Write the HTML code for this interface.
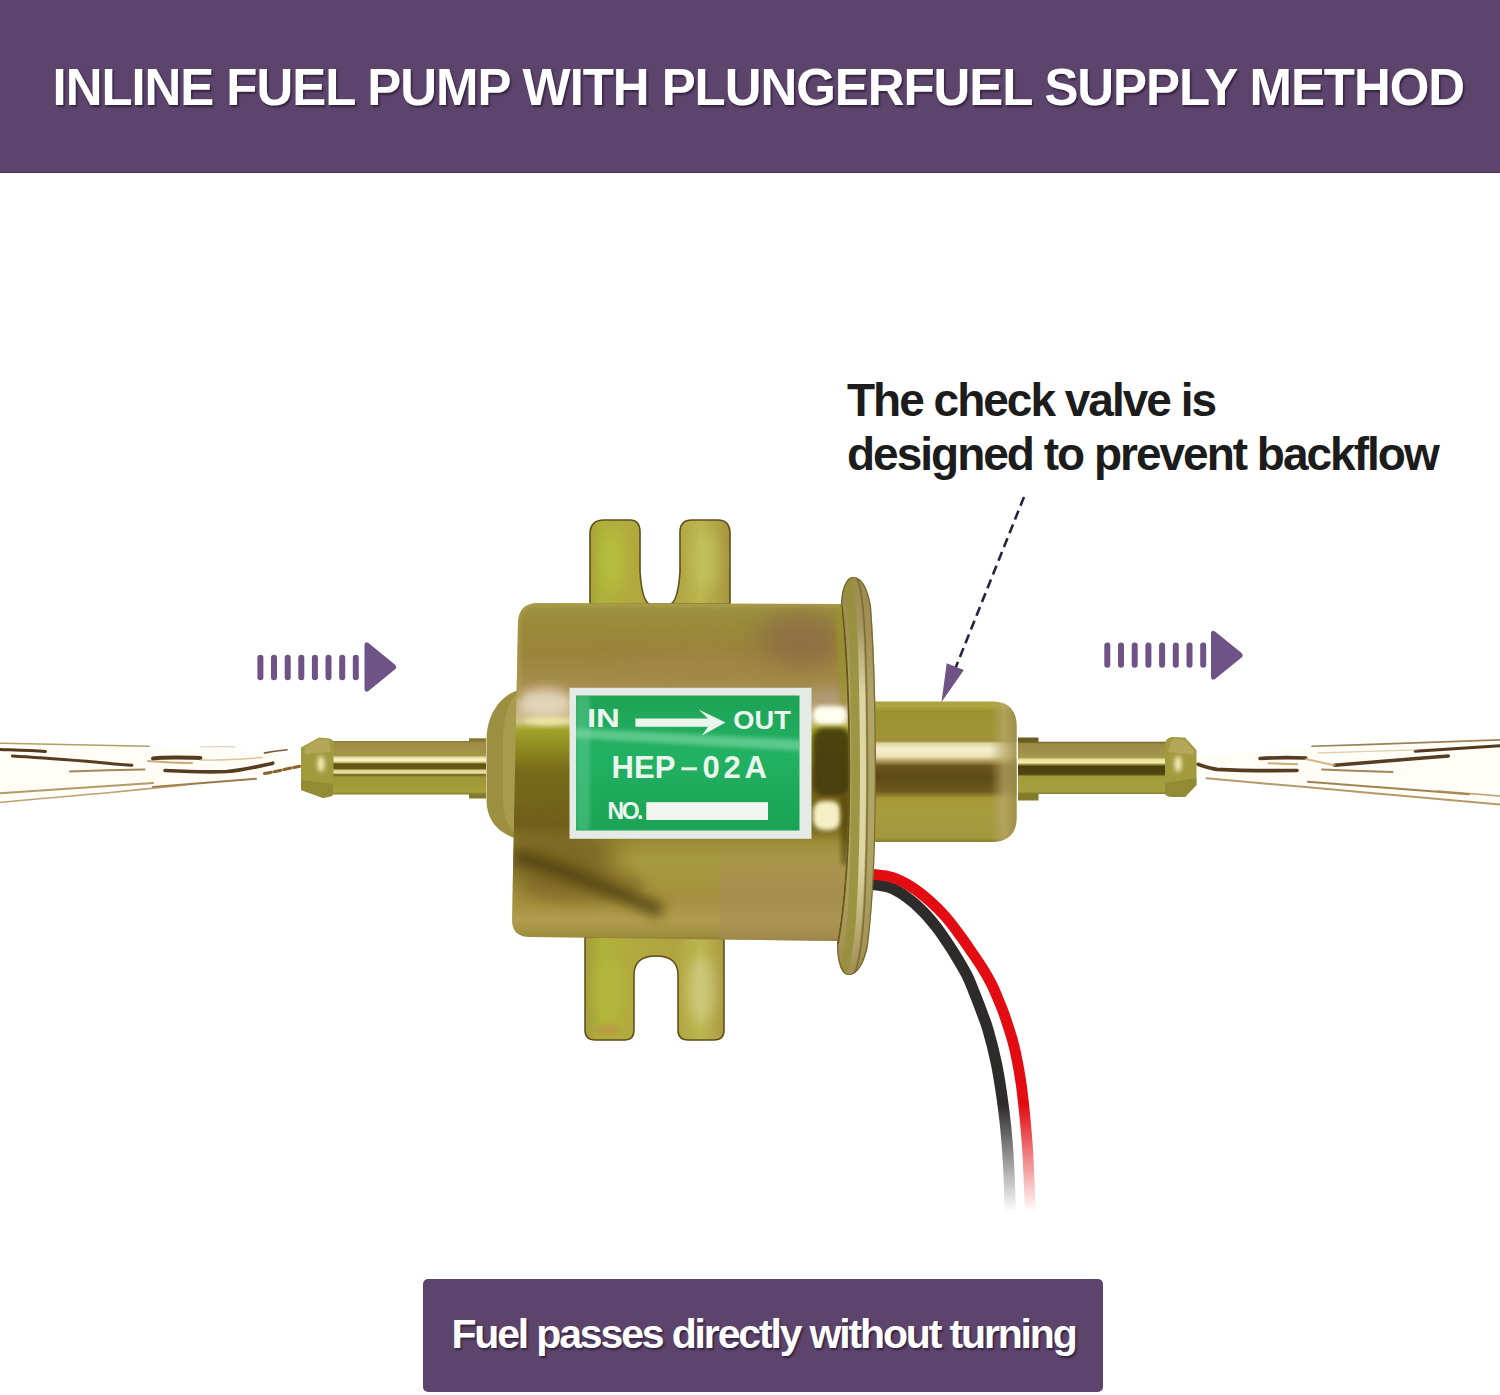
<!DOCTYPE html>
<html><head><meta charset="utf-8">
<style>
html,body{margin:0;padding:0;background:#fff;}
body{width:1500px;height:1395px;position:relative;overflow:hidden;font-family:"Liberation Sans",sans-serif;}
#hdr{position:absolute;left:0;top:0;width:1500px;height:172px;background:#5d446c;border-bottom:1.4px solid #46334f;}
#title{position:absolute;left:52.6px;top:57.6px;font-size:51px;font-weight:bold;color:#fff;white-space:nowrap;line-height:60px;letter-spacing:-1.08px;text-shadow:1.5px 2px 2px rgba(30,15,40,.65);}
#callout{position:absolute;left:847px;top:373px;font-size:46px;font-weight:bold;color:#1c1c1c;white-space:nowrap;line-height:54px;letter-spacing:-2px;}
#box{position:absolute;left:423px;top:1279px;width:680px;height:112.5px;background:#5d446c;border-radius:5px;}
#boxt{position:absolute;left:423.5px;top:1277.7px;width:680px;height:112px;line-height:112px;text-align:center;font-size:41px;font-weight:bold;color:#fff;white-space:nowrap;letter-spacing:-2.15px;text-shadow:1.5px 2px 2px rgba(30,15,40,.65);}
#art{position:absolute;left:0;top:0;}
</style></head><body>
<div id="hdr"></div>
<div id="title">INLINE FUEL PUMP WITH PLUNGERFUEL SUPPLY METHOD</div>
<div id="callout">The check valve is<br>designed to prevent backflow</div>
<svg id="art" width="1500" height="1395" viewBox="0 0 1500 1395">
<defs>
<linearGradient id="gBody" x1="0" y1="603" x2="0" y2="940" gradientUnits="userSpaceOnUse">
<stop offset="0" stop-color="#a49848"/>
<stop offset="0.027" stop-color="#9c8e3c"/>
<stop offset="0.14" stop-color="#988438"/>
<stop offset="0.26" stop-color="#a88f50"/>
<stop offset="0.323" stop-color="#c4b080"/>
<stop offset="0.353" stop-color="#d0c488"/>
<stop offset="0.377" stop-color="#a2a22a"/>
<stop offset="0.43" stop-color="#8e8a20"/>
<stop offset="0.5" stop-color="#786a1a"/>
<stop offset="0.66" stop-color="#72601a"/>
<stop offset="0.71" stop-color="#9c8c36"/>
<stop offset="0.76" stop-color="#a89a40"/>
<stop offset="0.88" stop-color="#a4903e"/>
<stop offset="0.94" stop-color="#b09c4c"/>
<stop offset="0.988" stop-color="#a08e40"/>
<stop offset="1" stop-color="#8a7a34"/>
</linearGradient>
<linearGradient id="gPipe" x1="0" y1="741" x2="0" y2="794.5" gradientUnits="userSpaceOnUse">
<stop offset="0" stop-color="#857830"/>
<stop offset="0.04" stop-color="#a08e48"/>
<stop offset="0.27" stop-color="#a49444"/>
<stop offset="0.31" stop-color="#e8e0a4"/>
<stop offset="0.36" stop-color="#fff8d8"/>
<stop offset="0.40" stop-color="#d0c070"/>
<stop offset="0.43" stop-color="#5e5212"/>
<stop offset="0.52" stop-color="#6a5c16"/>
<stop offset="0.545" stop-color="#d8d090"/>
<stop offset="0.60" stop-color="#ece4a8"/>
<stop offset="0.63" stop-color="#6e5e1a"/>
<stop offset="0.67" stop-color="#9c9436"/>
<stop offset="0.95" stop-color="#a8a03c"/>
<stop offset="1" stop-color="#857a2c"/>
</linearGradient>
<linearGradient id="gValve" x1="0" y1="701.5" x2="0" y2="842" gradientUnits="userSpaceOnUse">
<stop offset="0" stop-color="#a8a040"/>
<stop offset="0.03" stop-color="#b0a840"/>
<stop offset="0.07" stop-color="#9c9230"/>
<stop offset="0.25" stop-color="#a09438"/>
<stop offset="0.28" stop-color="#a08c3c"/>
<stop offset="0.30" stop-color="#e0d8a4"/>
<stop offset="0.34" stop-color="#f4f0d0"/>
<stop offset="0.39" stop-color="#ece4b8"/>
<stop offset="0.42" stop-color="#b8a468"/>
<stop offset="0.46" stop-color="#6a541c"/>
<stop offset="0.55" stop-color="#5e4a16"/>
<stop offset="0.64" stop-color="#6e5a1e"/>
<stop offset="0.69" stop-color="#a89838"/>
<stop offset="0.8" stop-color="#a89c40"/>
<stop offset="0.97" stop-color="#a4963c"/>
<stop offset="1" stop-color="#857a2c"/>
</linearGradient>
<linearGradient id="gValveEnd" x1="990" y1="0" x2="1017" y2="0" gradientUnits="userSpaceOnUse">
<stop offset="0" stop-color="#b0a060" stop-opacity="0"/>
<stop offset="0.5" stop-color="#b8a868" stop-opacity=".7"/>
<stop offset="1" stop-color="#9c8c48" stop-opacity=".9"/>
</linearGradient>
<linearGradient id="gFlange" x1="839" y1="0" x2="876" y2="0" gradientUnits="userSpaceOnUse">
<stop offset="0" stop-color="#6e5e20"/>
<stop offset="0.3" stop-color="#a08e44"/>
<stop offset="0.55" stop-color="#d0c484"/>
<stop offset="0.78" stop-color="#a89848"/>
<stop offset="1" stop-color="#6e6024"/>
</linearGradient>
<linearGradient id="gFlare" x1="0" y1="603" x2="0" y2="940" gradientUnits="userSpaceOnUse">
<stop offset="0" stop-color="#8c8430"/>
<stop offset="0.25" stop-color="#9a942c"/>
<stop offset="0.4" stop-color="#d8d090"/>
<stop offset="0.5" stop-color="#6a6018"/>
<stop offset="0.62" stop-color="#c8bc70"/>
<stop offset="0.8" stop-color="#a89c40"/>
<stop offset="1" stop-color="#b4a450"/>
</linearGradient>
<linearGradient id="gTab" x1="585" y1="0" x2="730" y2="0" gradientUnits="userSpaceOnUse">
<stop offset="0" stop-color="#a89c3c"/>
<stop offset="0.12" stop-color="#aeb23a"/>
<stop offset="0.3" stop-color="#b2aa3e"/>
<stop offset="0.62" stop-color="#b0a440"/>
<stop offset="0.8" stop-color="#bcb650"/>
<stop offset="1" stop-color="#a89440"/>
</linearGradient>
<linearGradient id="gLow" x1="0" y1="838" x2="0" y2="885" gradientUnits="userSpaceOnUse">
<stop offset="0" stop-color="#a88c5c" stop-opacity="0"/>
<stop offset="1" stop-color="#a88c5c" stop-opacity=".55"/>
</linearGradient>
<linearGradient id="gLabel" x1="0" y1="695" x2="0" y2="830" gradientUnits="userSpaceOnUse">
<stop offset="0" stop-color="#1ea256"/>
<stop offset="0.45" stop-color="#22b162"/>
<stop offset="1" stop-color="#1aa354"/>
</linearGradient>
<linearGradient id="gWireFade" x1="0" y1="1105" x2="0" y2="1212" gradientUnits="userSpaceOnUse">
<stop offset="0" stop-color="#fff" stop-opacity="0"/>
<stop offset="1" stop-color="#fff" stop-opacity="1"/>
</linearGradient>
<linearGradient id="gPipeR" x1="0" y1="741.7" x2="0" y2="794" gradientUnits="userSpaceOnUse">
<stop offset="0" stop-color="#6a5c20"/>
<stop offset="0.04" stop-color="#9a8a48"/>
<stop offset="0.3" stop-color="#a49848"/>
<stop offset="0.335" stop-color="#e8e098"/>
<stop offset="0.40" stop-color="#f4eeb0"/>
<stop offset="0.445" stop-color="#8c7c28"/>
<stop offset="0.47" stop-color="#4a4010"/>
<stop offset="0.62" stop-color="#52460f"/>
<stop offset="0.665" stop-color="#a09a38"/>
<stop offset="0.95" stop-color="#a8a040"/>
<stop offset="1" stop-color="#857a2c"/>
</linearGradient>
<linearGradient id="gFlBase" x1="0" y1="577" x2="0" y2="975" gradientUnits="userSpaceOnUse">
<stop offset="0" stop-color="#9c8a4c"/>
<stop offset="0.15" stop-color="#a4915a"/>
<stop offset="0.3" stop-color="#b0a468"/>
<stop offset="0.7" stop-color="#b0a465"/>
<stop offset="0.88" stop-color="#a8965a"/>
<stop offset="1" stop-color="#a08c52"/>
</linearGradient>
<linearGradient id="gFlCream" x1="0" y1="577" x2="0" y2="975" gradientUnits="userSpaceOnUse">
<stop offset="0" stop-color="#d8d0a0" stop-opacity="0"/>
<stop offset="0.12" stop-color="#d8d0a0" stop-opacity="0.1"/>
<stop offset="0.3" stop-color="#e0d8a8" stop-opacity="0.95"/>
<stop offset="0.72" stop-color="#e0d8a8" stop-opacity="0.95"/>
<stop offset="0.9" stop-color="#d8d0a0" stop-opacity="0.3"/>
<stop offset="1" stop-color="#d8d0a0" stop-opacity="0"/>
</linearGradient>
<filter id="blur2" filterUnits="userSpaceOnUse" x="250" y="450" width="1000" height="650"><feGaussianBlur stdDeviation="2"/></filter>
<filter id="blur6" filterUnits="userSpaceOnUse" x="250" y="450" width="1000" height="650"><feGaussianBlur stdDeviation="6"/></filter>
<filter id="blur12" filterUnits="userSpaceOnUse" x="250" y="450" width="1000" height="650"><feGaussianBlur stdDeviation="12"/></filter>
<clipPath id="cBody"><path d="M538,603 L841,604 C846,650 848.5,710 848.5,774 C848.5,840 845,900 837,941 L530,937 Q512,937 512,920 L518,622 Q519,603 538,603 Z"/></clipPath>
<clipPath id="cFlange"><path d="M841,606 C841,590 846,577 853,577 C862,577 868,588 871,606 C875,660 876,720 876,774 C876,830 874,900 868,945 C865,962 858,975 849,975 C841,975 837,962 837,944 C845,900 848,840 848,774 C848,710 846,650 841,606 Z"/></clipPath>
<clipPath id="cLabel"><rect x="576" y="695.5" width="223.5" height="135"/></clipPath>
</defs>
<!-- fuel streams -->
<g id="streamL" fill="none" stroke-linecap="round">
<path d="M300,756 C220,748 120,745 0,742 L0,803 C120,790 220,780 300,770 Z" fill="#fffdf6" stroke="none"/>
<path d="M0,743.2 C50,744 100,745.5 149,746.3" stroke="#a88c50" stroke-width="1.6" opacity=".85"/>
<path d="M200,747 C215,746.5 225,746.5 235,746.8" stroke="#c8b080" stroke-width="1.2" opacity=".6"/>
<path d="M0,749.4 C15,750 30,750.5 45.5,751.4" stroke="#40240a" stroke-width="3" opacity=".9"/>
<path d="M12.4,756 C40,757.5 70,760 95,762 C110,763.5 122,765 132,765.3" stroke="#44280a" stroke-width="3" opacity=".9"/>
<path d="M70,771.5 C95,770.5 120,769.8 144.6,769.4" stroke="#8a6a30" stroke-width="2" opacity=".8"/>
<path d="M153,758.5 C165,757 185,757.5 200.4,758" stroke="#42260a" stroke-width="4" opacity=".9"/>
<path d="M148,761 C160,762 178,763 192,763" stroke="#c09858" stroke-width="2.2" opacity=".8"/>
<path d="M165,770.5 C185,771.5 205,772.5 227,771.5 C245,770 260,766 272.7,763.2" stroke="#44280a" stroke-width="3.6" opacity=".9"/>
<path d="M264.5,773.6 C276,771.5 288,768.5 299.6,766.3" stroke="#7a5218" stroke-width="3" stroke-dasharray="7 3" opacity=".9"/>
<path d="M264.5,752.9 C272,751.8 280,750.6 287,749.8" stroke="#60400e" stroke-width="1.6" opacity=".85"/>
<path d="M200,760 C220,760.5 245,759 262,757.5" stroke="#c8ac70" stroke-width="1.4" opacity=".7"/>
<path d="M0,793.2 C50,790 100,786 153,782.9" stroke="#a88850" stroke-width="2" opacity=".85"/>
<path d="M153,787 C190,784 225,781 256,778.7" stroke="#8a6428" stroke-width="2" opacity=".85"/>
<path d="M0,802.5 C35,799 70,796 103,793.2 C130,790.5 160,787.5 186,785" stroke="#b09058" stroke-width="1.6" opacity=".85"/>
</g>
<g id="streamR" fill="none" stroke-linecap="round">
<path d="M1197,756 C1280,750 1380,744 1500,739 L1500,805 C1380,796 1280,786 1197,774 Z" fill="#fffdf6" stroke="none"/>
<path d="M1311.9,746.3 C1375,744.5 1440,742 1500,739.9" stroke="#8a6a38" stroke-width="1.6" opacity=".85"/>
<path d="M1415.2,751.2 C1445,749.5 1475,747.5 1500,745.7" stroke="#40240a" stroke-width="3" opacity=".9"/>
<path d="M1334.6,765.3 C1370,762.5 1410,759 1448.3,756" stroke="#44280a" stroke-width="3.4" opacity=".9"/>
<path d="M1260,758.5 C1275,757.5 1292,757.5 1305.7,758" stroke="#42260a" stroke-width="3.6" opacity=".9"/>
<path d="M1305.7,759 C1315,761 1325,763.5 1334.6,765.3" stroke="#c8a868" stroke-width="2.2" opacity=".8"/>
<path d="M1198,764.3 C1205,766.5 1211,768.5 1217,769.4 C1245,771 1270,770.8 1297,770.5" stroke="#44280a" stroke-width="3.6" opacity=".9"/>
<path d="M1268.5,763.2 C1278,763.6 1288,764 1297.4,764.3" stroke="#c09858" stroke-width="2" opacity=".8"/>
<path d="M1322,769.4 C1345,770.3 1370,771.3 1392.5,772.1" stroke="#8a6a30" stroke-width="2" opacity=".8"/>
<path d="M1318,753 C1350,751.8 1385,750.8 1417,749.8" stroke="#c8b080" stroke-width="1.3" opacity=".6"/>
<path d="M1206.5,778.3 C1240,781.5 1272,784.2 1305.7,787 C1335,789.8 1366,792.5 1396.6,795.2 C1430,798.3 1466,801.5 1500,804.5" stroke="#a88850" stroke-width="2" opacity=".85"/>
<path d="M1307.8,781.8 C1330,783.5 1353,785.3 1376,787 C1407,789.5 1438,791.8 1469,794.2" stroke="#8a6428" stroke-width="2" opacity=".8"/>
<path d="M1438,791 C1458,792.6 1480,794.4 1500,796" stroke="#a88850" stroke-width="1.6" opacity=".8"/>
</g>
<!-- wires -->
<g fill="none" stroke-linecap="butt">
<path d="M864.0,884.0 C865.3,884.1 867.5,883.8 871.8,884.4 C876.1,885.0 884.0,885.6 889.6,887.6 C895.2,889.6 900.3,892.7 905.7,896.5 C911.1,900.3 916.7,905.1 921.8,910.2 C926.9,915.3 932.0,921.4 936.3,926.9 C940.6,932.4 944.0,937.6 947.6,943.0 C951.2,948.4 954.6,953.7 957.8,959.1 C961.0,964.5 964.3,969.8 967.0,975.3 C969.7,980.8 971.7,986.1 974.0,991.9 C976.3,997.7 978.7,1003.7 981.0,1010.0 C983.3,1016.3 985.5,1021.0 988.0,1029.8 C990.5,1038.5 993.9,1051.6 996.2,1062.5 C998.5,1073.4 1000.1,1084.1 1001.7,1095.0 C1003.3,1105.9 1004.7,1116.7 1005.8,1128.0 C1006.9,1139.3 1007.8,1151.2 1008.5,1163.0 C1009.2,1174.8 1009.6,1189.3 1009.9,1198.8 C1010.2,1208.3 1010.4,1216.5 1010.5,1220.0" stroke="#2e2c2b" stroke-width="11.2"/>
<path d="M864.0,873.8 C865.3,873.9 867.1,873.6 871.8,874.2 C876.5,874.8 885.8,875.3 892.3,877.4 C898.8,879.5 904.8,882.6 911.1,886.6 C917.4,890.6 924.1,896.0 929.9,901.1 C935.7,906.2 940.9,911.4 946.0,917.2 C951.1,923.0 956.2,930.2 960.5,936.0 C964.8,941.8 968.1,946.8 971.8,952.2 C975.5,957.6 979.3,963.0 982.6,968.3 C985.9,973.6 988.9,978.7 991.5,984.0 C994.1,989.3 996.4,994.8 998.5,1000.0 C1000.6,1005.2 1001.8,1007.3 1004.4,1015.0 C1007.0,1022.7 1011.3,1034.9 1014.0,1046.0 C1016.7,1057.1 1019.0,1069.8 1020.8,1081.6 C1022.6,1093.4 1023.8,1105.7 1024.9,1117.0 C1026.0,1128.3 1026.8,1137.4 1027.6,1149.7 C1028.4,1162.0 1029.0,1178.9 1029.5,1190.6 C1030.0,1202.3 1030.3,1215.1 1030.5,1220.0" stroke="#e20c12" stroke-width="10.8"/>
<rect x="985" y="1105" width="60" height="120" fill="url(#gWireFade)" stroke="none"/>
</g>
<!-- top tabs -->
<path d="M590,604 L590,534 Q590,520 604,520 L630,520 Q640,520 640,532 L640,572 Q642,600 649,604 L671,604 Q678,600 680,572 L680,532 Q680,520 692,520 L718,520 Q730,520 730,534 L730,604 Z" fill="url(#gTab)" stroke="#5e4e1c" stroke-width="1.6"/>
<ellipse cx="613" cy="560" rx="13" ry="30" fill="#b8c63c" opacity=".6" filter="url(#blur6)"/>
<ellipse cx="706" cy="560" rx="13" ry="30" fill="#c4c860" opacity=".6" filter="url(#blur6)"/>
<!-- bottom tabs -->
<path d="M585,937 L585,1030 Q585,1040 595,1040 L625,1040 Q634,1040 634,1030 L634,975 Q634,956 656,956 Q678,956 678,975 L678,1030 Q678,1040 688,1040 L714,1040 Q724,1040 724,1030 L724,937 Z" fill="url(#gTab)" stroke="#5e4a18" stroke-width="1.5"/>
<ellipse cx="609" cy="990" rx="14" ry="34" fill="#b4bc3c" opacity=".6" filter="url(#blur6)"/>
<ellipse cx="701" cy="990" rx="13" ry="34" fill="#d8d494" opacity=".6" filter="url(#blur6)"/>
<ellipse cx="607" cy="1030" rx="12" ry="6" fill="#c09048" opacity=".6" filter="url(#blur2)"/>

<!-- inlet pipe -->
<path d="M333,741 L469,741 L469,738.2 L486,738.2 L486,798.4 L469,798.4 L469,794.5 L333,794.5 Z" fill="url(#gPipe)"/>
<path d="M301,747.5 L319,737.5 L329,738.5 Q333,739.5 333.5,742 L333.5,794 Q333,796 330,796.8 L323,798 L301,790 Z" fill="#a39a3e"/>
<path d="M305,747 L319,739 L329,740 L331,752 L305,754 Z" fill="#b8aa62" opacity=".8"/>
<ellipse cx="321" cy="764" rx="3.5" ry="8" fill="#f4eeb8" filter="url(#blur2)"/>
<path d="M301,780 L333,784 L333,795 L323,798 L301,790 Z" fill="#8c8430" opacity=".7"/>
<!-- outlet pipe -->
<path d="M1166,741.7 L1038.5,741.7 L1038.5,737.5 L1018,737.5 L1018,800.5 L1038.5,800.5 L1038.5,794 L1166,794 Z" fill="url(#gPipeR)"/>
<path d="M1196.5,750 L1185,737.5 L1172,737 Q1166,738 1165,743 L1165,794 Q1166,797 1172,797 L1185,797 L1196.5,785 Z" fill="#a39a3e"/>
<path d="M1194,750 L1184,739.5 L1172,739 L1168,752 L1194,755 Z" fill="#b8aa62" opacity=".8"/>
<ellipse cx="1178" cy="764" rx="3.5" ry="8" fill="#f4eeb8" filter="url(#blur2)"/>
<path d="M1196.5,778 L1165,783 L1165,794 L1172,797 L1185,797 L1196.5,785 Z" fill="#8c8430" opacity=".7"/>

<!-- check valve -->
<path d="M868,701.5 L994,701.5 Q1016.5,703 1016.5,726 L1016.5,818 Q1016.5,840 994,842 L868,842 Z" fill="url(#gValve)"/>
<path d="M990,701.5 L994,701.5 Q1016.5,703 1016.5,726 L1016.5,818 Q1016.5,840 994,842 L990,842 Z" fill="url(#gValveEnd)"/>

<!-- dome -->
<path d="M522,689 C500,694 486.5,715 486.5,740 L486.5,800 C486.5,820 498,835 522,840 Z" fill="#9c9040"/>
<path d="M520,692 C510,697 504,712 503,740 L503,800 C504,820 510,832 520,838 Z" fill="#b0a458" opacity=".6"/>

<!-- flange -->
<path d="M841,606 C841,590 846,577 853,577 C862,577 868,588 871,606 C875,660 876,720 876,774 C876,830 874,900 868,945 C865,962 858,975 849,975 C841,975 837,962 837,944 Z" fill="url(#gFlBase)"/>
<g clip-path="url(#cFlange)" fill="none">
<path d="M845,577 C853,590 855,650 856,774 C855,900 851,960 841,975" stroke="#969038" stroke-width="9" opacity=".75"/>
<path d="M852,577 C860,590 862.5,650 863,774 C862.5,900 858,960 848,976" stroke="url(#gFlCream)" stroke-width="6"/>
<path d="M856.5,577 C864.5,590 867,650 867.5,774 C867,900 863,960 853,976" stroke="#6e6024" stroke-width="1.6" opacity=".7"/>
<path d="M841,606 C846,650 848.5,710 848.5,774 C848.5,840 845,900 837,944" stroke="#645818" stroke-width="3.5"/>
<path d="M841,606 C841,590 846,577 853,576.5 C862,577 868,588 871,606 C875,660 876,720 876,774 C876,830 874,900 868,945 C865,962 858,975 849,975.5 C841,975 837,962 837,944" stroke="#6e632a" stroke-width="2.6" opacity=".85"/>
</g>
<!-- body -->
<path d="M538,603 L841,604 C846,650 848.5,710 848.5,774 C848.5,840 845,900 837,941 L530,937 Q512,937 512,920 L518,622 Q519,603 538,603 Z" fill="url(#gBody)"/>
<g clip-path="url(#cBody)">
<!-- top-right brown patch -->
<ellipse cx="800" cy="640" rx="42" ry="28" fill="#8a6848" opacity=".7" filter="url(#blur12)"/>
<ellipse cx="700" cy="665" rx="90" ry="18" fill="#a08448" opacity=".5" filter="url(#blur12)"/>
<!-- left of label -->
<ellipse cx="545" cy="703" rx="28" ry="15" fill="#eadcc8" opacity=".85" filter="url(#blur6)"/>
<ellipse cx="548" cy="721" rx="24" ry="4" fill="#ece4a0" filter="url(#blur2)"/>
<ellipse cx="555" cy="858" rx="62" ry="32" fill="#6e5a1c" opacity=".75" filter="url(#blur12)"/>
<!-- right of label -->
<ellipse cx="828" cy="700" rx="22" ry="12" fill="#b09a78" opacity=".8" filter="url(#blur6)"/>
<rect x="813" y="706" width="34" height="18" rx="8" fill="#fffff0" filter="url(#blur2)"/>
<rect x="813" y="728" width="37" height="68" rx="11" fill="#463c08" opacity=".93" filter="url(#blur2)"/>
<rect x="813" y="801" width="28" height="29" rx="10" fill="#f4f0c4" filter="url(#blur2)"/>
<rect x="841" y="795" width="8" height="70" fill="#5a4a10" opacity=".8" filter="url(#blur2)"/>
<!-- flare (upper/lower) -->
<path d="M836,604 L841,604 C846,650 848,690 848,704 L840,704 Z" fill="#9a9430" opacity=".8" filter="url(#blur2)"/>
<!-- lower body -->
<rect x="720" y="838" width="130" height="110" fill="url(#gLow)"/>
<ellipse cx="585" cy="885" rx="60" ry="18" fill="#7a6424" opacity=".5" filter="url(#blur6)"/>
<path d="M515,856 C560,868 610,890 662,911" fill="none" stroke="#4e3c10" stroke-width="14" opacity=".8" filter="url(#blur6)"/>
<!-- top edge light, left edge shoulder -->
<path d="M519,700 L518,622 Q519,603 538,603 L841,604" fill="none" stroke="#b0a450" stroke-width="5" opacity=".6" filter="url(#blur2)"/>
</g>
<!-- label -->
<rect x="569.5" y="687.8" width="242" height="151" fill="#e4eae6"/>
<rect x="576" y="695.5" width="223.5" height="135" fill="url(#gLabel)"/>
<g clip-path="url(#cLabel)">
<path d="M570,728 L805,740 L805,751 L570,738 Z" fill="#8fe0b0" opacity=".55" filter="url(#blur2)"/>
<rect x="576" y="695" width="14" height="136" fill="#7fd8a8" opacity=".35" filter="url(#blur2)"/>
</g>
<g fill="#eaf5ee" font-family="Liberation Sans, sans-serif" font-weight="bold">
<text x="586.9" y="727.3" font-size="26" textLength="33" lengthAdjust="spacingAndGlyphs">IN</text>
<text x="733.3" y="728.8" font-size="26" textLength="57.5" lengthAdjust="spacingAndGlyphs">OUT</text>
<path d="M635.4,718.5 L708,718.5 L698.6,709.5 L725.5,722.5 L702,735.5 L708,726.8 L635.4,726.8 Z"/>
<text x="611.5" y="777.9" font-size="31" textLength="64" lengthAdjust="spacing">HEP</text>
<rect x="681.3" y="767.3" width="15.6" height="3"/>
<text x="702.5" y="777.9" font-size="31" textLength="64.5" lengthAdjust="spacing">02A</text>
<text x="607.5" y="818.8" font-size="23" textLength="36" lengthAdjust="spacing">NO.</text>
<rect x="646.3" y="802.2" width="121.7" height="17.8" fill="#f0f5f1"/>
</g>
<!-- flow arrows -->
<g fill="#6f5387">
<g id="barsL"><rect x="257.4" y="654.8" width="6" height="25.4" rx="3"/><rect x="271.0" y="654.8" width="6" height="25.4" rx="3"/><rect x="284.7" y="654.8" width="6" height="25.4" rx="3"/><rect x="298.3" y="654.8" width="6" height="25.4" rx="3"/><rect x="311.9" y="654.8" width="6" height="25.4" rx="3"/><rect x="325.5" y="654.8" width="6" height="25.4" rx="3"/><rect x="339.2" y="654.8" width="6" height="25.4" rx="3"/><rect x="352.8" y="654.8" width="6" height="25.4" rx="3"/></g>
<path d="M364.5,645 Q364.5,641 368.5,643 L394.5,664.2 Q398,667 394.5,669.8 L368.5,691 Q364.5,693 364.5,689 Z"/>
<g id="barsR"><rect x="1104.3" y="642.6" width="6" height="25.2" rx="3"/><rect x="1118.0" y="642.6" width="6" height="25.2" rx="3"/><rect x="1131.7" y="642.6" width="6" height="25.2" rx="3"/><rect x="1145.4" y="642.6" width="6" height="25.2" rx="3"/><rect x="1159.1" y="642.6" width="6" height="25.2" rx="3"/><rect x="1172.8" y="642.6" width="6" height="25.2" rx="3"/><rect x="1186.5" y="642.6" width="6" height="25.2" rx="3"/><rect x="1200.2" y="642.6" width="6" height="25.2" rx="3"/></g>
<path d="M1211,633.5 Q1211,629.5 1215,631.5 L1241,652.5 Q1244.5,655.3 1241,658 L1215,679 Q1211,681 1211,677 Z"/>
</g>
<!-- dashed pointer -->
<line x1="1024" y1="497" x2="955.5" y2="668" stroke="#2a2140" stroke-width="2.6" stroke-dasharray="9.5 5.3"/>
<path d="M941.5,702 L946.7,663.2 L963.9,670 Z" fill="#6f5387"/>
</svg>
<div id="box"></div>
<div id="boxt">Fuel passes directly without turning</div>
</body></html>
